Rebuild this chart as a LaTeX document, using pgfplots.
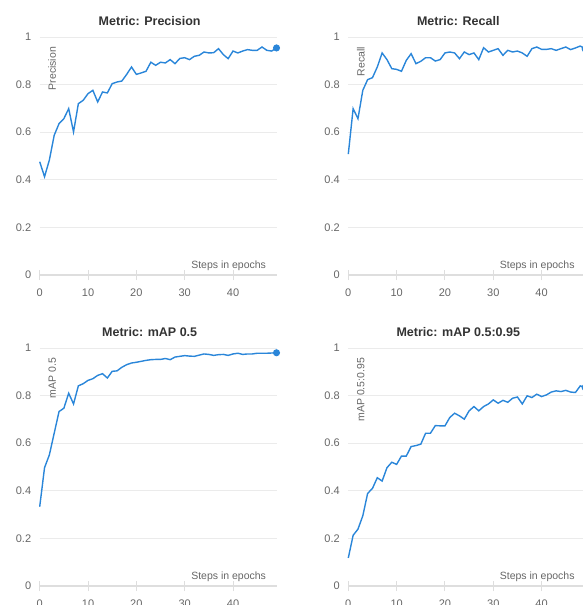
\documentclass[border=0pt]{standalone}
\usepackage{fontspec}
\setmainfont{Liberation Sans}
\usepackage{pgfplots}
\pgfplotsset{compat=1.18}
\usepackage{pgfplotstable}

\definecolor{labc}{HTML}{666666}
\definecolor{titc}{HTML}{333333}
\definecolor{gridc}{HTML}{EBEBEB}
\definecolor{axisc}{HTML}{DEDEDE}
\definecolor{linec}{HTML}{2A86D9}

\pgfplotstableread{
x y
0 0.476
1 0.413
2 0.483
3 0.587
4 0.636
5 0.657
6 0.699
7 0.601
8 0.720
9 0.734
10 0.762
11 0.776
12 0.727
13 0.769
14 0.765
15 0.804
16 0.811
17 0.815
18 0.843
19 0.874
20 0.843
21 0.849
22 0.856
23 0.894
24 0.881
25 0.894
26 0.891
27 0.905
28 0.888
29 0.910
30 0.913
31 0.905
32 0.919
33 0.923
34 0.937
35 0.933
36 0.934
37 0.951
38 0.926
39 0.909
40 0.941
41 0.933
42 0.941
43 0.947
44 0.944
45 0.944
46 0.958
47 0.944
48 0.941
49 0.954
}\precision

\pgfplotstableread{
x y
0 0.508
1 0.699
2 0.657
3 0.776
4 0.821
5 0.829
6 0.874
7 0.933
8 0.905
9 0.867
10 0.864
11 0.856
12 0.902
13 0.930
14 0.888
15 0.898
16 0.913
17 0.913
18 0.899
19 0.905
20 0.933
21 0.937
22 0.933
23 0.909
24 0.937
25 0.926
26 0.933
27 0.905
28 0.955
29 0.937
30 0.944
31 0.951
32 0.923
33 0.944
34 0.937
35 0.941
36 0.933
37 0.919
38 0.951
39 0.958
40 0.948
41 0.948
42 0.951
43 0.944
44 0.951
45 0.958
46 0.947
47 0.954
48 0.962
49 0.950
}\recall

\pgfplotstableread{
x y
0 0.333
1 0.497
2 0.551
3 0.642
4 0.733
5 0.747
6 0.810
7 0.765
8 0.841
9 0.850
10 0.864
11 0.871
12 0.885
13 0.892
14 0.874
15 0.902
16 0.904
17 0.919
18 0.930
19 0.937
20 0.940
21 0.944
22 0.948
23 0.951
24 0.952
25 0.952
26 0.956
27 0.951
28 0.962
29 0.965
30 0.968
31 0.966
32 0.965
33 0.970
34 0.975
35 0.973
36 0.969
37 0.972
38 0.973
39 0.969
40 0.975
41 0.978
42 0.973
43 0.975
44 0.975
45 0.978
46 0.978
47 0.978
48 0.979
49 0.980
}\mapfifty

\pgfplotstableread{
x y
0 0.118
1 0.213
2 0.239
3 0.295
4 0.389
5 0.410
6 0.455
7 0.441
8 0.497
9 0.520
10 0.511
11 0.546
12 0.546
13 0.586
14 0.590
15 0.596
16 0.642
17 0.642
18 0.674
19 0.673
20 0.673
21 0.708
22 0.726
23 0.715
24 0.701
25 0.736
26 0.754
27 0.736
28 0.754
29 0.765
30 0.782
31 0.768
32 0.780
33 0.772
34 0.789
35 0.794
36 0.765
37 0.799
38 0.792
39 0.806
40 0.796
41 0.803
42 0.815
43 0.820
44 0.817
45 0.822
46 0.815
47 0.813
48 0.841
49 0.834
}\mapall

\pgfplotsset{
  metric/.style={
    scale only axis, width=236.8pt, height=238pt,
    anchor=south west,
    xmin=0, xmax=49, ymin=0, ymax=1,
    xtick={0,10,20,30,40}, ytick={0,0.2,0.4,0.6,0.8,1},
    axis x line*=bottom, axis y line*=left,
    xtick pos=bottom, ytick pos=left,
    x axis line style={draw=axisc, line width=1.8pt, -},
    y axis line style={draw=none},
    ymajorgrids, grid style={draw=gridc, line width=0.8pt},
    tick align=center, major tick length=10pt,
    xtick style={draw=axisc, line width=1pt},
    ytick style={draw=none},
    ticklabel style={font=\fontsize{11}{13}\selectfont, text=labc},
    xticklabel style={yshift=-5pt},
    /pgf/number format/assume math mode=true,
    clip=false,
    title style={font=\bfseries\fontsize{12.5}{14}\selectfont, text=titc,
      at={(axis description cs:0.4645,1)}, anchor=base, yshift=6pt},
  },
  metricline/.style={color=linec, line width=1.4pt, mark=*, mark indices={50},
    mark size=2.8pt, mark options={fill=linec, draw=none}},
}

\newcommand{\extras}[1]{%
  \node[anchor=base east, font=\fontsize{10.5}{12}\selectfont, text=labc]
    at ([xshift=-7pt, yshift=7pt]axis cs:49,0) {Steps in epochs};
  \node[rotate=90, anchor=east, font=\fontsize{10.5}{12}\selectfont, text=labc]
    at ([xshift=12.5pt, yshift=-6.5pt]axis cs:0,1) {#1};
}

\begin{document}
\begin{tikzpicture}
\begin{axis}[metric, at={(39.7pt,-275pt)}, title={Metric: Precision}]
  \addplot[metricline] table[x=x, y=y] {\precision};
  \extras{Precision}
\end{axis}
\begin{axis}[metric, at={(348.3pt,-275pt)}, title={Metric: Recall}]
  \addplot[metricline] table[x=x, y=y] {\recall};
  \extras{Recall}
\end{axis}
\begin{axis}[metric, at={(39.7pt,-586pt)}, title={Metric: mAP 0.5}]
  \addplot[metricline] table[x=x, y=y] {\mapfifty};
  \extras{mAP 0.5}
\end{axis}
\begin{axis}[metric, at={(348.3pt,-586pt)}, title={Metric: mAP 0.5:0.95}]
  \addplot[metricline] table[x=x, y=y] {\mapall};
  \extras{mAP 0.5:0.95}
\end{axis}
\pgfresetboundingbox
\path[use as bounding box] (0pt,0pt) rectangle (583pt,-605pt);
\end{tikzpicture}
\end{document}
